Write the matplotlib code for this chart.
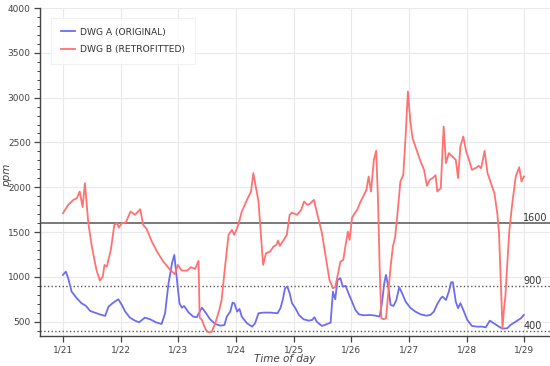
"""CO2 concentration in two dwellings, 1/21 - 1/29."""

import matplotlib
matplotlib.use("Agg")
import matplotlib.pyplot as plt
from matplotlib.ticker import MultipleLocator

# days since 1/21 00:00 and ppm
dwg_a_day = [0.00, 0.05, 0.09, 0.15, 0.24, 0.32, 0.40, 0.47, 0.58, 0.67, 0.73, 0.79, 0.86, 0.96,
             1.02, 1.08, 1.16, 1.25, 1.32, 1.42, 1.51, 1.61, 1.71, 1.77, 1.83, 1.89, 1.93, 1.97,
             2.02, 2.06, 2.10, 2.18, 2.26, 2.32, 2.37, 2.41, 2.48, 2.55, 2.64, 2.73, 2.80, 2.84,
             2.90, 2.94, 2.97, 3.02, 3.06, 3.10, 3.19, 3.28, 3.33, 3.39, 3.48, 3.59, 3.72, 3.77,
             3.81, 3.85, 3.89, 3.93, 3.97, 4.03, 4.09, 4.17, 4.26, 4.32, 4.36, 4.40, 4.49, 4.57,
             4.64, 4.68, 4.72, 4.76, 4.81, 4.85, 4.90, 4.95, 5.01, 5.07, 5.13, 5.21, 5.33, 5.42,
             5.49, 5.53, 5.57, 5.60, 5.64, 5.68, 5.73, 5.78, 5.83, 5.88, 5.94, 6.02, 6.11, 6.20,
             6.30, 6.37, 6.43, 6.49, 6.55, 6.58, 6.64, 6.69, 6.73, 6.76, 6.81, 6.85, 6.89, 6.94,
             7.01, 7.09, 7.18, 7.27, 7.33, 7.40, 7.47, 7.56, 7.62, 7.70, 7.76, 7.85, 7.94, 7.99]
dwg_a_ppm = [1022, 1059, 985, 835, 761, 706, 675, 620, 594, 575, 564, 668, 706, 750,
             687, 612, 545, 511, 493, 545, 527, 493, 474, 594, 929, 1152, 1245, 1003,
             706, 656, 675, 601, 556, 549, 612, 656, 594, 527, 474, 455, 463, 556,
             612, 712, 706, 612, 642, 556, 482, 444, 482, 594, 601, 601, 594, 650,
             742, 873, 891, 817, 706, 650, 575, 527, 511, 519, 549, 500, 452, 471,
             489, 835, 750, 966, 985, 891, 899, 817, 724, 631, 582, 571, 575, 567,
             556, 706, 929, 1022, 891, 687, 675, 742, 884, 817, 724, 656, 612, 582,
             567, 575, 612, 698, 761, 779, 742, 835, 940, 940, 724, 650, 706, 631,
             519, 452, 444, 444, 437, 511, 482, 444, 422, 426, 463, 500, 538, 575]

dwg_b_day = [0.00, 0.09, 0.18, 0.24, 0.29, 0.34, 0.38, 0.44, 0.50, 0.58, 0.64, 0.69, 0.72, 0.76,
             0.83, 0.89, 0.94, 0.97, 1.02, 1.09, 1.17, 1.25, 1.34, 1.39, 1.45, 1.54, 1.63, 1.74,
             1.86, 1.94, 1.99, 2.06, 2.15, 2.22, 2.29, 2.35, 2.37, 2.41, 2.44, 2.48, 2.52, 2.58,
             2.64, 2.71, 2.75, 2.81, 2.87, 2.93, 2.97, 3.04, 3.10, 3.19, 3.26, 3.30, 3.39, 3.47,
             3.52, 3.59, 3.65, 3.70, 3.73, 3.76, 3.81, 3.88, 3.93, 3.97, 4.06, 4.13, 4.18, 4.24,
             4.28, 4.35, 4.42, 4.49, 4.57, 4.62, 4.68, 4.72, 4.78, 4.81, 4.86, 4.90, 4.94, 4.97,
             5.01, 5.04, 5.10, 5.16, 5.21, 5.26, 5.30, 5.34, 5.39, 5.43, 5.46, 5.49, 5.52, 5.56,
             5.60, 5.64, 5.68, 5.72, 5.76, 5.80, 5.85, 5.90, 5.94, 5.98, 6.02, 6.06, 6.13, 6.20,
             6.26, 6.31, 6.36, 6.42, 6.46, 6.49, 6.55, 6.60, 6.64, 6.69, 6.75, 6.81, 6.85, 6.89,
             6.94, 6.99, 7.04, 7.09, 7.15, 7.21, 7.25, 7.31, 7.36, 7.41, 7.48, 7.53, 7.56, 7.59,
             7.62, 7.65, 7.67, 7.70, 7.74, 7.79, 7.85, 7.91, 7.95, 7.99]
dwg_b_ppm = [1711, 1803, 1859, 1878, 1952, 1778, 2046, 1599, 1338, 1077, 958, 1003, 1133, 1114,
             1301, 1580, 1599, 1550, 1599, 1606, 1729, 1692, 1755, 1580, 1535, 1394, 1282, 1170,
             1077, 1030, 1133, 1070, 1070, 1108, 1089, 1178, 545, 519, 463, 407, 382, 388,
             482, 631, 742, 1114, 1468, 1524, 1468, 1580, 1729, 1859, 1952, 2158, 1840, 1133,
             1264, 1282, 1338, 1357, 1405, 1346, 1394, 1468, 1692, 1717, 1692, 1748, 1840, 1803,
             1815, 1859, 1673, 1487, 1170, 966, 873, 884, 1077, 1170, 1189, 1357, 1505, 1412,
             1655, 1692, 1748, 1840, 1904, 1971, 2120, 1952, 2306, 2407, 1896, 1114, 538, 527,
             538, 817, 1114, 1338, 1449, 1710, 2064, 2139, 2567, 3069, 2753, 2549, 2418, 2287,
             2194, 2016, 2083, 2108, 2135, 1952, 1990, 2678, 2269, 2381, 2343, 2306, 2102, 2455,
             2567, 2399, 2306, 2194, 2213, 2239, 2213, 2407, 2158, 2064, 1934, 1710, 1487, 966,
             426, 668, 779, 1114, 1524, 1822, 2120, 2224, 2064, 2120]

tick_days = [0, 1, 2, 3, 4, 5, 6, 7, 8]
tick_labels = ["1/21", "1/22", "1/23", "1/24", "1/25", "1/26", "1/27", "1/28", "1/29"]

ref_levels = [1600, 900, 400]
ref_styles = ["-", ":", ":"]

BLUE = "#6d6df0"
RED = "#ff7272"
GREY = "#555555"

fig = plt.figure(figsize=(5.5, 3.66), dpi=100)
ax = fig.add_axes([0.0736, 0.082, 0.926, 0.896])

ax.plot(dwg_a_day, dwg_a_ppm, color=BLUE, lw=1.3, label="DWG A (ORIGINAL)")
ax.plot(dwg_b_day, dwg_b_ppm, color=RED, lw=1.3, label="DWG B (RETROFITTED)")

for level, style in zip(ref_levels, ref_styles):
    ax.axhline(level, color=GREY, lw=1.1 if style == "-" else 1.0, ls=style, zorder=1)
    ax.text(7.98, level, str(level), fontsize=7, color="#333333", va="bottom", ha="left")

ax.set_xlim(-0.39, 8.44)
ax.set_ylim(340, 4000)
ax.set_xticks(tick_days)
ax.set_xticklabels(tick_labels)
ax.yaxis.set_major_locator(MultipleLocator(500))
ax.yaxis.set_minor_locator(MultipleLocator(100))

ax.grid(True, color="#e9e9e9", lw=0.8)
ax.set_axisbelow(True)
for side in ("top", "right"):
    ax.spines[side].set_visible(False)
for side in ("left", "bottom"):
    ax.spines[side].set_color("#444444")
    ax.spines[side].set_linewidth(1.0)

ax.tick_params(axis="both", which="major", direction="out", length=4, width=0.9,
               labelsize=6.5, labelcolor="#444444", color="#444444", pad=3)
ax.tick_params(axis="y", which="minor", direction="out", length=2, width=0.7, color="#444444")

ax.set_ylabel("ppm", fontsize=7.5, style="italic", color="#444444")
ax.set_xlabel("Time of day", fontsize=7.5, style="italic", color="#444444")
ax.yaxis.set_label_coords(-0.056, 0.49)
ax.xaxis.set_label_coords(0.48, -0.055)

leg = ax.legend(loc="upper left", bbox_to_anchor=(0.012, 0.985), fontsize=6.6, frameon=True,
                fancybox=False, edgecolor="#eeeeee", handlelength=1.5, handletextpad=0.5,
                borderpad=1.1, labelspacing=0.9, labelcolor="#333333")
leg.get_frame().set_linewidth(0.8)

fig.savefig("out.png", dpi=100)
